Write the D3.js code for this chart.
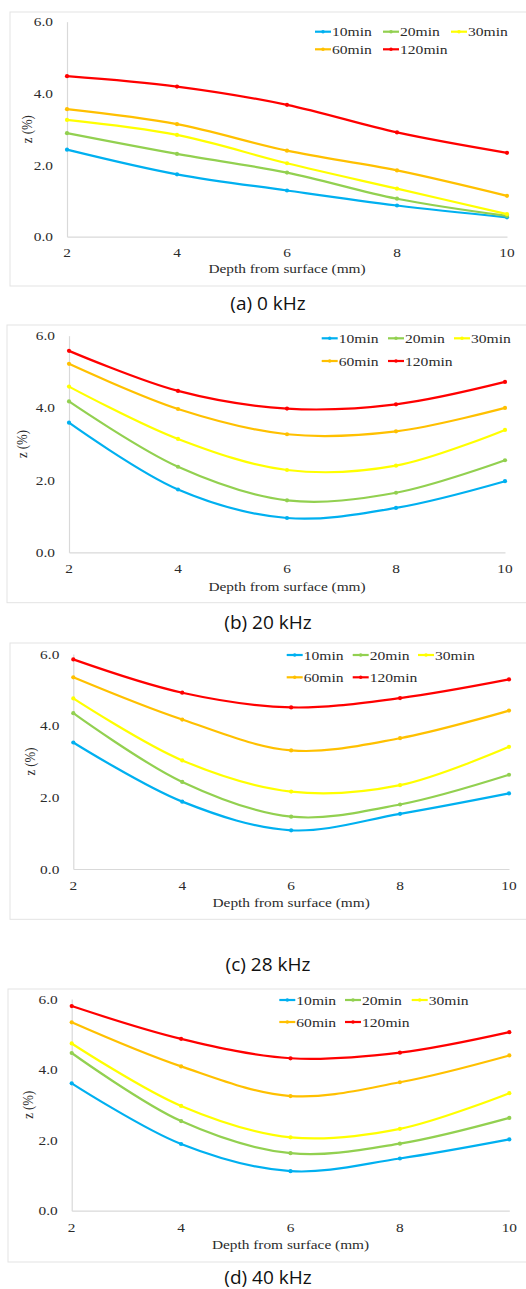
<!DOCTYPE html>
<html><head><meta charset="utf-8">
<script src="https://cdn.jsdelivr.net/npm/d3@7"></script>
<style>
html,body{margin:0;padding:0;background:#fff;}
svg{display:block;}
</style></head>
<body>
<script>
// ---- data ----
const depths = [2, 4, 6, 8, 10];
const seriesNames = ["10min", "20min", "30min", "60min", "120min"];
const seriesColors = ["#00b0f0", "#92d050", "#ffff00", "#ffc000", "#ff0000"];
const yTickValues = [0, 2, 4, 6];
const yTickLabels = ["0.0", "2.0", "4.0", "6.0"];
const xTickLabels = ["2", "4", "6", "8", "10"];
const xTitle = "Depth from surface (mm)";
const yTitle = "z (%)";
const captions = ["(a) 0 kHz", "(b) 20 kHz", "(c) 28 kHz", "(d) 40 kHz"];

// rows: 10min, 20min, 30min, 60min, 120min ; columns: depths
const z0kHz = [
  [2.43, 1.74, 1.29, 0.87, 0.54],
  [2.89, 2.31, 1.79, 1.06, 0.58],
  [3.26, 2.84, 2.05, 1.34, 0.63],
  [3.56, 3.14, 2.40, 1.85, 1.14],
  [4.48, 4.19, 3.68, 2.91, 2.34]
];
const z20kHz = [
  [3.59, 1.74, 0.95, 1.23, 1.97],
  [4.18, 2.37, 1.44, 1.65, 2.55],
  [4.59, 3.14, 2.28, 2.40, 3.39],
  [5.22, 3.97, 3.27, 3.35, 4.00],
  [5.58, 4.47, 3.98, 4.10, 4.72]
];
const z28kHz = [
  [3.53, 1.88, 1.08, 1.54, 2.11],
  [4.35, 2.43, 1.46, 1.80, 2.63],
  [4.76, 3.03, 2.16, 2.34, 3.41],
  [5.35, 4.17, 3.31, 3.65, 4.42],
  [5.85, 4.92, 4.51, 4.77, 5.29]
];
const z40kHz = [
  [3.61, 1.89, 1.12, 1.48, 2.02],
  [4.47, 2.54, 1.63, 1.90, 2.63],
  [4.74, 2.97, 2.08, 2.32, 3.33],
  [5.34, 4.09, 3.25, 3.64, 4.40],
  [5.80, 4.87, 4.32, 4.48, 5.06]
];
const panelData = [z0kHz, z20kHz, z28kHz, z40kHz];

// ---- layout ----
const W = 526, H = 1289;
const layout = [
  {x0:67, x1:507, yB:236.7, yT:21.7, legY:[31.7,49.3], legX:[315,383,451], capY:303, frame:[10,12,286], tickY:252, titleY:268, zX:27},
  {x0:69, x1:505, yB:552.3, yT:335.7, legY:[338.3,361], legX:[321.7,388,454], capY:621.7, frame:[7,325,602.7], tickY:568, titleY:586, zX:22},
  {x0:73.3, x1:509, yB:869, yT:654, legY:[655,677.3], legX:[286.7,352.7,418], capY:964, frame:[10,643,919.3], tickY:885, titleY:902.3, zX:30},
  {x0:71.7, x1:509.3, yB:1210.7, yT:999, legY:[1000,1022], legX:[279.3,345,411.7], capY:1276.5, frame:[8,989,1262], tickY:1227, titleY:1244.3, zX:28}
];
const serif = "'Liberation Serif','Times New Roman',serif";
const fs = 12.8, sx = 1.2;

const svg = d3.select("body").append("svg").attr("width", W).attr("height", H);

function stretchedText(g, x, y, txt, anchor, size) {
  return g.append("text")
    .attr("transform", `translate(${x},${y}) scale(${sx},1)`)
    .attr("text-anchor", anchor).attr("dominant-baseline", "central")
    .attr("font-family", serif).attr("font-size", size || fs).attr("fill", "#2b2b2b")
    .text(txt);
}

panelData.forEach((data, p) => {
  const L = layout[p];
  const g = svg.append("g");
  // frame
  g.append("rect").attr("x", L.frame[0]).attr("y", L.frame[1])
    .attr("width", W + 10 - L.frame[0]).attr("height", L.frame[2] - L.frame[1])
    .attr("fill", "none").attr("stroke", "#e3e3e3").attr("stroke-width", 1);

  const x = d3.scaleLinear().domain([2, 10]).range([L.x0, L.x1]);
  const y = d3.scaleLinear().domain([0, 6]).range([L.yB, L.yT]);

  // axes lines
  const xAxis = g.append("g").attr("transform", `translate(0,${L.yB})`)
    .call(d3.axisBottom(x).tickValues(depths).tickSize(0).tickFormat(() => ""));
  xAxis.select(".domain").attr("stroke", "#d9d9d9").attr("stroke-width", 1.2);
  const yAxis = g.append("g").attr("transform", `translate(${L.x0},0)`)
    .call(d3.axisLeft(y).tickValues(yTickValues).tickSize(0).tickFormat(() => ""));
  yAxis.select(".domain").attr("stroke", "#d9d9d9").attr("stroke-width", 1.2);

  // tick labels
  depths.forEach((d, i) => stretchedText(g, x(d), L.tickY, xTickLabels[i], "middle"));
  yTickValues.forEach((v, i) => stretchedText(g, L.x0 - 14, y(v), yTickLabels[i], "end"));

  // titles
  stretchedText(g, (L.x0 + L.x1) / 2, L.titleY, xTitle, "middle");
  g.append("text")
    .attr("transform", `translate(${L.zX},${(L.yB + L.yT) / 2}) rotate(-90) scale(1,${sx})`)
    .attr("text-anchor", "middle").attr("dominant-baseline", "central")
    .attr("font-family", serif).attr("font-size", fs).attr("fill", "#2b2b2b")
    .text(yTitle);

  // lines
  const line = d3.line().x((d, i) => x(depths[i])).y(d => y(d)).curve(d3.curveCatmullRom.alpha(0.5));
  data.forEach((vals, s) => {
    g.append("path").attr("d", line(vals)).attr("fill", "none")
      .attr("stroke", seriesColors[s]).attr("stroke-width", 2.2);
    g.selectAll(null).data(vals).enter().append("circle")
      .attr("cx", (d, i) => x(depths[i])).attr("cy", d => y(d)).attr("r", 2.1)
      .attr("fill", seriesColors[s]);
  });

  // legend
  seriesNames.forEach((name, s) => {
    const row = s < 3 ? 0 : 1;
    const col = s < 3 ? s : s - 3;
    const lx = L.legX[col], ly = L.legY[row];
    g.append("line").attr("x1", lx).attr("x2", lx + 16).attr("y1", ly).attr("y2", ly)
      .attr("stroke", seriesColors[s]).attr("stroke-width", 2.2);
    g.append("circle").attr("cx", lx + 8).attr("cy", ly).attr("r", 1.8).attr("fill", seriesColors[s]);
    stretchedText(g, lx + 17, ly, name, "start", 13);
  });

  // caption
  svg.append("text").attr("x", 268).attr("y", L.capY)
    .attr("text-anchor", "middle").attr("dominant-baseline", "central")
    .attr("font-family", "'Open Sans','Noto Sans',sans-serif").attr("font-size", 19).attr("fill", "#111")
    .text(captions[p]);
});
</script>
</body></html>
